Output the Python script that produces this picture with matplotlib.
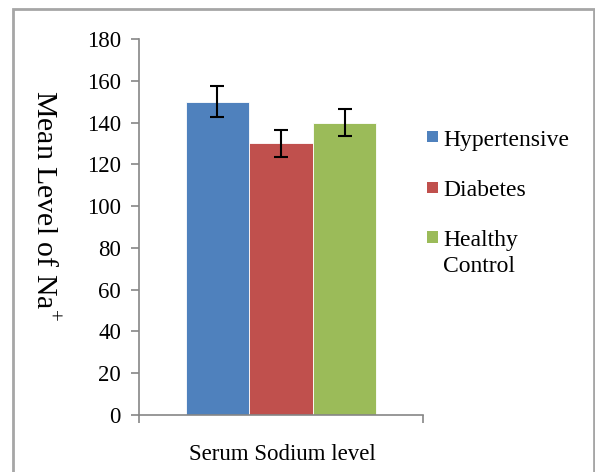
import matplotlib.pyplot as plt
import matplotlib.patches as patches

# Datos del gráfico
categoria = "Serum Sodium level"
grupos = ["Hypertensive", "Diabetes", "Healthy\nControl"]
medias = [150, 130, 140]
errores = [7.5, 6.5, 6.5]
colores = ["#4F81BD", "#C0504D", "#9BBB59"]
y_ticks = [0, 20, 40, 60, 80, 100, 120, 140, 160, 180]

W, H = 595, 472
plt.rcParams['font.family'] = ['Liberation Serif', 'DejaVu Serif']
plt.rcParams['mathtext.fontset'] = 'custom'
plt.rcParams['mathtext.rm'] = 'Liberation Serif'

fig = plt.figure(figsize=(W / 100, H / 100), dpi=100)
ax = fig.add_axes([139 / W, 1 - 415 / H, 284 / W, 376 / H])

ancho = 0.224
xs = [0.5 + (i - 1) * ancho for i in range(len(grupos))]
ax.bar(xs, medias, width=ancho, color=colores, edgecolor='white', linewidth=0.6,
       yerr=errores, capsize=5, error_kw=dict(ecolor='black', elinewidth=1.5, capthick=1.5))

ax.set_xlim(0, 1)
ax.set_ylim(0, 180)
ax.set_yticks(y_ticks)
ax.set_xticks([])
ax.set_xticks([0, 1], minor=True)
ax.tick_params(axis='x', which='minor', direction='out', length=6, color='#868686', width=1.2)
ax.tick_params(axis='y', direction='out', length=6, color='#868686', width=1.2,
               labelsize=16.5, pad=7)
for s in ['top', 'right']:
    ax.spines[s].set_visible(False)
for s in ['left', 'bottom']:
    ax.spines[s].set_color('#868686')
    ax.spines[s].set_linewidth(1.2)

fig.text(282 / W, 1 - 455 / H, categoria, ha='center', va='center', fontsize=16.5)
fig.text(44 / W, 1 - 206 / H, 'Mean Level of Na$^{+}$', rotation=270,
         ha='center', va='center', fontsize=21.5)

# Leyenda manual
y_leg = [137, 187, 237]
for g, c, yp in zip(grupos, colores, y_leg):
    fig.patches.append(patches.Rectangle((427 / W, 1 - (yp + 5.5) / H), 11 / W, 11 / H,
                                         transform=fig.transFigure, fc=c, ec='none'))
    fig.text(443 / W, 1 - (yp - 7) / H, g, ha='left', va='top', fontsize=17,
             linespacing=1.3)

# Marco exterior
fig.patches.append(patches.Rectangle((13 / W, -0.01), (594 - 13) / W, 1 - 9 / H + 0.01,
                                     transform=fig.transFigure, fill=False,
                                     ec='#A6A6A6', lw=2))

plt.savefig('out.png', dpi=100)
plt.close(fig)
